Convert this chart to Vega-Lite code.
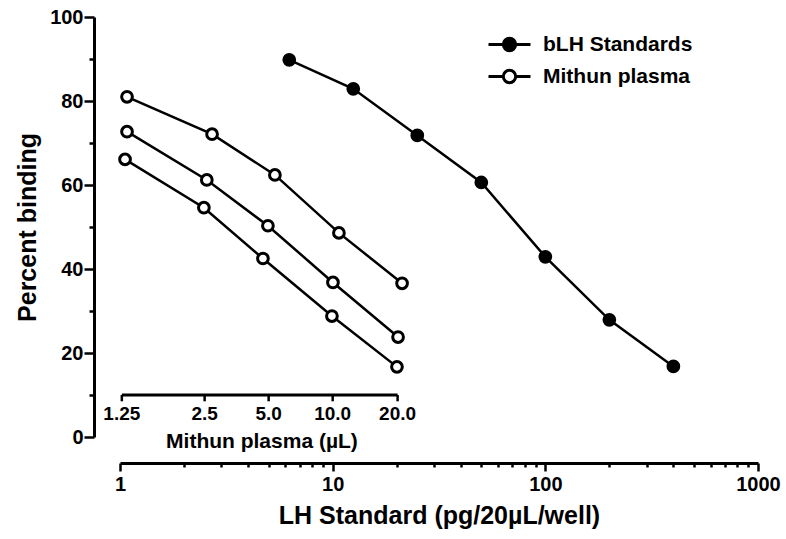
{
  "$schema": "https://vega.github.io/schema/vega-lite/v6.json",
  "width": 638,
  "height": 420,
  "autosize": "none",
  "padding": {"left": 120, "top": 17, "right": 28, "bottom": 102},
  "background": "white",
  "config": {
    "font": "Liberation Sans",
    "view": {"stroke": null},
    "axis": {
      "grid": false,
      "domainColor": "black",
      "tickColor": "black",
      "labelColor": "black",
      "titleColor": "black",
      "labelFont": "Liberation Sans",
      "titleFont": "Liberation Sans",
      "labelFontWeight": "bold",
      "titleFontWeight": "bold",
      "domainWidth": 3,
      "tickWidth": 2.5
    },
    "legend": {"labelFont": "Liberation Sans"}
  },
  "datasets": {
    "curves": [
      {"series": "bLH", "type": "bLH Standards", "x": 6.25, "y": 89.8},
      {"series": "bLH", "type": "bLH Standards", "x": 12.5, "y": 82.9},
      {"series": "bLH", "type": "bLH Standards", "x": 25, "y": 71.8},
      {"series": "bLH", "type": "bLH Standards", "x": 50, "y": 60.6},
      {"series": "bLH", "type": "bLH Standards", "x": 100, "y": 42.9},
      {"series": "bLH", "type": "bLH Standards", "x": 200, "y": 27.9},
      {"series": "bLH", "type": "bLH Standards", "x": 400, "y": 16.8},
      {"series": "M1", "type": "Mithun plasma", "x": 1.079, "y": 81.0},
      {"series": "M1", "type": "Mithun plasma", "x": 2.71, "y": 72.1},
      {"series": "M1", "type": "Mithun plasma", "x": 5.35, "y": 62.4},
      {"series": "M1", "type": "Mithun plasma", "x": 10.7, "y": 48.6},
      {"series": "M1", "type": "Mithun plasma", "x": 21.2, "y": 36.6},
      {"series": "M2", "type": "Mithun plasma", "x": 1.079, "y": 72.7},
      {"series": "M2", "type": "Mithun plasma", "x": 2.56, "y": 61.2},
      {"series": "M2", "type": "Mithun plasma", "x": 4.96, "y": 50.3},
      {"series": "M2", "type": "Mithun plasma", "x": 10.03, "y": 36.8},
      {"series": "M2", "type": "Mithun plasma", "x": 20.3, "y": 23.8},
      {"series": "M3", "type": "Mithun plasma", "x": 1.056, "y": 66.1},
      {"series": "M3", "type": "Mithun plasma", "x": 2.48, "y": 54.6},
      {"series": "M3", "type": "Mithun plasma", "x": 4.70, "y": 42.5},
      {"series": "M3", "type": "Mithun plasma", "x": 9.92, "y": 28.8},
      {"series": "M3", "type": "Mithun plasma", "x": 20.06, "y": 16.7}
    ],
    "innerTicks": [
      {"v": 1.02, "label": "1.25"},
      {"v": 2.5, "label": "2.5"},
      {"v": 5, "label": "5.0"},
      {"v": 10, "label": "10.0"},
      {"v": 20.2, "label": "20.0"}
    ],
    "one": [{"name": "Mithun plasma (µL)"}]
  },
  "layer": [
    {
      "data": {"name": "curves"},
      "mark": {"type": "line", "color": "black", "strokeWidth": 2.5},
      "encoding": {
        "x": {
          "field": "x",
          "type": "quantitative",
          "scale": {"type": "log", "domain": [1, 1000], "nice": false},
          "axis": {
            "title": "LH Standard (pg/20µL/well)",
            "values": [1, 2, 3, 4, 5, 6, 7, 8, 9, 10, 20, 30, 40, 50, 60, 70, 80, 90, 100, 200, 300, 400, 500, 600, 700, 800, 900, 1000],
            "format": "d",
            "labelExpr": "(datum.value == 1 || datum.value == 10 || datum.value == 100 || datum.value == 1000) ? datum.label : ''",
            "tickSize": {"condition": {"test": "datum.value == 1 || datum.value == 10 || datum.value == 100 || datum.value == 1000", "value": 8}, "value": 4},
            "offset": 26,
            "domainWidth": 3,
            "tickWidth": 2.5,
            "labelFontSize": 20,
            "labelPadding": 3,
            "labelFlush": false,
            "labelOverlap": false,
            "labelBound": false,
            "titleFontSize": 25,
            "titlePadding": 9
          }
        },
        "y": {
          "field": "y",
          "type": "quantitative",
          "scale": {"domain": [0, 100], "nice": false},
          "axis": {
            "title": "Percent binding",
            "values": [0, 10, 20, 30, 40, 50, 60, 70, 80, 90, 100],
            "labelExpr": "datum.value % 20 == 0 ? datum.label : ''",
            "tickSize": {"condition": {"test": "datum.value % 20 == 0", "value": 10}, "value": 5},
            "offset": 26,
            "domainWidth": 3,
            "tickWidth": 2.5,
            "labelFontSize": 20,
            "labelPadding": 1,
            "labelOverlap": false,
            "titleFontSize": 25,
            "titlePadding": 9
          }
        },
        "detail": {"field": "series"}
      }
    },
    {
      "data": {"name": "curves"},
      "mark": {"type": "point", "filled": true, "stroke": "black", "strokeWidth": 3, "size": 115, "opacity": 1},
      "encoding": {
        "x": {"field": "x", "type": "quantitative"},
        "y": {"field": "y", "type": "quantitative"},
        "fill": {
          "field": "type",
          "type": "nominal",
          "scale": {"domain": ["bLH Standards", "Mithun plasma"], "range": ["black", "white"]},
          "legend": {
            "title": null,
            "orient": "none",
            "legendX": 378,
            "legendY": 16,
            "padding": 0,
            "symbolType": "M-2.1,0L-0.62,0M0.62,0L2.1,0M-0.62,0A0.62,0.62,0,1,0,0.62,0A0.62,0.62,0,1,0,-0.62,0Z",
            "symbolSize": 400,
            "symbolStrokeColor": "black",
            "symbolStrokeWidth": 3,
            "symbolOpacity": 1,
            "labelFontSize": 21,
            "labelFontWeight": "bold",
            "labelColor": "black",
            "labelOffset": 22,
            "rowPadding": 7
          }
        }
      }
    },
    {
      "data": {"name": "one"},
      "mark": {"type": "rule", "color": "black", "strokeWidth": 3},
      "encoding": {
        "x": {"datum": 1.02, "type": "quantitative"},
        "x2": {"datum": 20.2},
        "y": {"datum": 10, "type": "quantitative"}
      }
    },
    {
      "data": {"name": "innerTicks"},
      "mark": {"type": "rule", "color": "black", "strokeWidth": 2.5},
      "encoding": {
        "x": {"field": "v", "type": "quantitative"},
        "y": {"datum": 10, "type": "quantitative"},
        "y2": {"datum": 8.5}
      }
    },
    {
      "data": {"name": "innerTicks"},
      "mark": {"type": "text", "fontSize": 19, "fontWeight": "bold", "color": "black", "baseline": "middle", "align": "center"},
      "encoding": {
        "x": {"field": "v", "type": "quantitative"},
        "y": {"datum": 5.5, "type": "quantitative"},
        "text": {"field": "label"}
      }
    },
    {
      "data": {"name": "one"},
      "mark": {"type": "text", "fontSize": 21, "fontWeight": "bold", "color": "black", "baseline": "middle", "align": "center"},
      "encoding": {
        "x": {"datum": 4.65, "type": "quantitative"},
        "y": {"datum": -1.3, "type": "quantitative"},
        "text": {"field": "name"}
      }
    }
  ]
}
